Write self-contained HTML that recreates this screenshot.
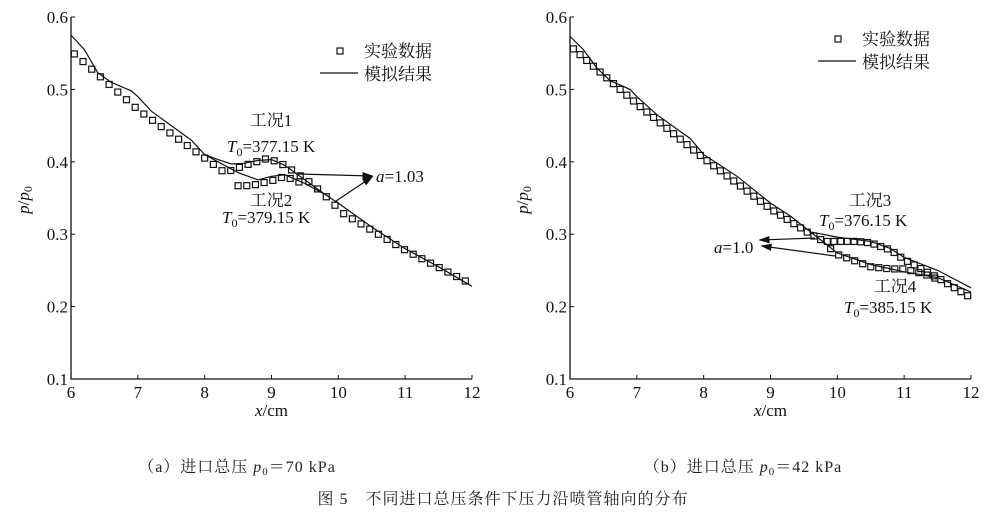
<!DOCTYPE html>
<html><head><meta charset="utf-8"><style>
body{margin:0;background:#fff;}
svg{display:block;font-family:"Liberation Serif","Noto Serif CJK SC",serif;}
</style></head><body>
<svg id="s" width="1006" height="523" xmlns="http://www.w3.org/2000/svg">
<g id="g" fill="none" stroke="#111"></g>
<g id="t" fill="#111" font-size="17"></g>
<g fill="#222" font-size="16" letter-spacing="1">
<text x="237" y="472" text-anchor="middle">（a）进口总压 <tspan font-style="italic">p</tspan><tspan font-size="11" dy="3">0</tspan><tspan dy="-3">＝70 kPa</tspan></text>
<text x="743" y="472" text-anchor="middle">（b）进口总压 <tspan font-style="italic">p</tspan><tspan font-size="11" dy="3">0</tspan><tspan dy="-3">＝42 kPa</tspan></text>
<text x="503" y="504" text-anchor="middle">图 5　不同进口总压条件下压力沿喷管轴向的分布</text>
</g>
</svg>
<script>
const NS="http://www.w3.org/2000/svg",G=document.getElementById('g'),T=document.getElementById('t');
function el(p,tag,a,txt){const e=document.createElementNS(NS,tag);for(const k in a)e.setAttribute(k,a[k]);if(txt!==undefined)e.innerHTML=txt;p.appendChild(e);return e;}
function interp(pts,x){for(let i=0;i<pts.length-1;i++){if(x>=pts[i][0]&&x<=pts[i+1][0]){const t=(x-pts[i][0])/(pts[i+1][0]-pts[i][0]);return pts[i][1]+t*(pts[i+1][1]-pts[i][1]);}}return pts[pts.length-1][1];}
function panel(x0){
 const X=x=>x0+(x-6)*66.83,Y=v=>379-(v-0.1)*724;
 el(G,'path',{d:`M${x0} 17V379H${X(12)}`,'stroke-width':1.3});
 for(let i=0;i<=5;i++){const v=0.1+i*0.1;el(G,'line',{x1:x0,x2:x0+4,y1:Y(v),y2:Y(v)});el(T,'text',{x:x0-3,y:Y(v)+6,'text-anchor':'end'},v.toFixed(1));}
 for(let x=6;x<=12;x++){el(G,'line',{x1:X(x),x2:X(x),y1:379,y2:375});el(T,'text',{x:X(x),y:398,'text-anchor':'middle'},x);}
 el(T,'text',{x:X(9),y:416,'text-anchor':'middle'},'<tspan font-style="italic">x</tspan>/cm');
 el(T,'text',{transform:`translate(${x0-42},200) rotate(-90)`,'text-anchor':'middle'},'<tspan font-style="italic">p</tspan>/<tspan font-style="italic">p</tspan><tspan font-size="12" dy="3">0</tspan>');
 return {X,Y};
}
function line(P,pts){el(G,'path',{d:'M'+pts.map(p=>P.X(p[0]).toFixed(1)+' '+P.Y(p[1]).toFixed(1)).join('L'),'stroke-width':1.2});}
function marks(P,pts,xs){xs.forEach(x=>{el(G,'rect',{x:P.X(x)-3,y:P.Y(interp(pts,x))-3,width:6,height:6,'stroke-width':1.2});});}
function rng(a,b,s){const r=[];for(let x=a;x<=b+1e-6;x+=s)r.push(x);return r;}
function arrow(x1,y1,x2,y2){el(G,'line',{x1,y1,x2,y2,'stroke-width':1.2});const a=Math.atan2(y2-y1,x2-x1),L=9,w=3;
 el(G,'polygon',{points:`${x2},${y2} ${x2-L*Math.cos(a)+w*Math.sin(a)},${y2-L*Math.sin(a)-w*Math.cos(a)} ${x2-L*Math.cos(a)-w*Math.sin(a)},${y2-L*Math.sin(a)+w*Math.cos(a)}`,fill:'#111'});}
function legend(x,y){el(G,'rect',{x:x-3,y:y-3,width:6,height:6,'stroke-width':1.2});el(G,'line',{x1:x-20,x2:x+18,y1:y+22,y2:y+22,'stroke-width':1.2});
 el(T,'text',{x:x+24,y:y+6},'实验数据');el(T,'text',{x:x+24,y:y+29},'模拟结果');}
// left
let P=panel(71);
const s1=[[6,.575],[6.2,.555],[6.4,.523],[6.6,.51],[6.9,.498],[7.0,.49],[7.2,.47],[7.5,.45],[7.8,.43],[8.0,.41],[8.2,.403],[8.4,.397],[8.6,.398],[8.8,.402],[9.0,.403],[9.2,.395],[9.5,.375],[9.8,.355],[10,.343],[10.5,.31],[11,.28],[11.5,.255],[12,.228]];
const s2=[[8.0,.41],[8.2,.4],[8.5,.385],[8.8,.375],[9.0,.38],[9.2,.382],[9.5,.37],[9.8,.355]];
line(P,s1);line(P,s2);
const e1=[[6.05,.549],[7,.472],[8.3,.385],[8.6,.395],[8.95,.405],[9.2,.395],[9.6,.37],[9.9,.345],[10.05,.33],[11,.278],[11.95,.233]];
const e2=[[8.3,.385],[8.5,.367],[8.7,.367],[9.05,.375],[9.2,.38],[9.6,.365],[9.9,.345]];
marks(P,e1,rng(6.05,11.95,0.13));marks(P,e2,rng(8.5,9.5,0.13));
legend(340,51);
el(T,'text',{x:271,y:126,'text-anchor':'middle'},'工况1');
el(T,'text',{x:227,y:152},'<tspan font-style="italic">T</tspan><tspan font-size="12" dy="4">0</tspan><tspan dy="-4">=377.15 K</tspan>');
el(T,'text',{x:271,y:206,'text-anchor':'middle'},'工况2');
el(T,'text',{x:222,y:223},'<tspan font-style="italic">T</tspan><tspan font-size="12" dy="4">0</tspan><tspan dy="-4">=379.15 K</tspan>');
arrow(298,174,372,176);arrow(336,201,372,177);
el(T,'text',{x:376,y:182},'<tspan font-style="italic">a</tspan>=1.03');
// right
P=panel(570);
const r1=[[6,.573],[6.2,.555],[6.4,.53],[6.6,.512],[6.9,.5],[7.0,.49],[7.3,.465],[7.8,.432],[8.0,.41],[8.5,.38],[9.0,.343],[9.3,.325],[9.6,.303],[10,.296],[10.5,.29],[10.8,.28],[11,.268],[11.5,.25],[12,.226]];
const r2=[[9.6,.303],[10,.274],[10.5,.258],[11,.248],[11.5,.24],[12,.22]];
line(P,r1);line(P,r2);
const f1=[[6.05,.556],[7,.48],[8,.405],[9,.335],[9.6,.3],[9.8,.29],[10.3,.29],[10.5,.288],[10.8,.278],[11,.265],[11.3,.25],[11.5,.24],[11.95,.215]];
const f2=[[9.8,.29],[9.9,.28],[10,.272],[10.3,.262],[10.5,.255],[10.8,.252],[11,.252],[11.3,.245],[11.5,.238],[11.95,.215]];
marks(P,f1,rng(6.05,11.95,0.1));marks(P,f2,rng(9.9,11.5,0.12));
legend(838,39);
el(T,'text',{x:870,y:206,'text-anchor':'middle'},'工况3');
el(T,'text',{x:819,y:226},'<tspan font-style="italic">T</tspan><tspan font-size="12" dy="4">0</tspan><tspan dy="-4">=376.15 K</tspan>');
el(T,'text',{x:895,y:292,'text-anchor':'middle'},'工况4');
el(T,'text',{x:844,y:313},'<tspan font-style="italic">T</tspan><tspan font-size="12" dy="4">0</tspan><tspan dy="-4">=385.15 K</tspan>');
arrow(815,238,760,240);arrow(835,256,762,246);
el(T,'text',{x:714,y:253},'<tspan font-style="italic">a</tspan>=1.0');
</script>
</body></html>
